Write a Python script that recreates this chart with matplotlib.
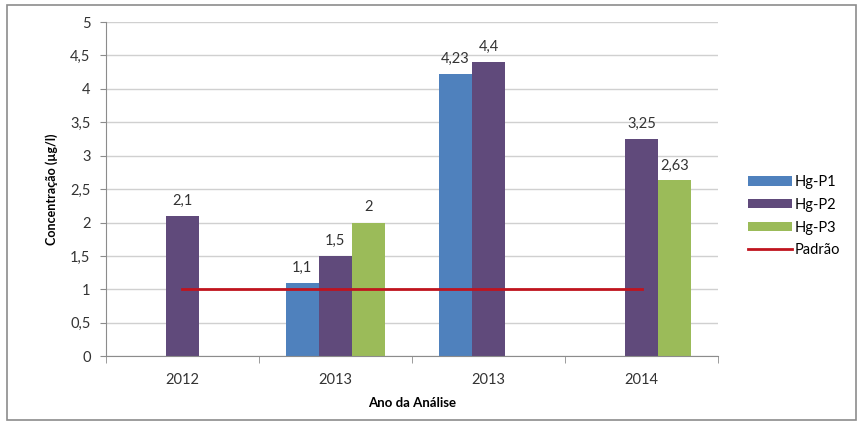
import matplotlib.pyplot as plt
import matplotlib.patches as mpatches
import numpy as np

plt.rcParams['font.family'] = ['Lato', 'DejaVu Sans']

anos = ["2012", "2013", "2013", "2014"]
hg_p1 = [np.nan, 1.1, 4.23, np.nan]
hg_p2 = [2.1, 1.5, 4.4, 3.25]
hg_p3 = [np.nan, 2.0, np.nan, 2.63]
padrao = [1, 1, 1, 1]

series = [("Hg-P1", hg_p1, "#4F81BD"),
          ("Hg-P2", hg_p2, "#604A7B"),
          ("Hg-P3", hg_p3, "#9BBB59")]

fig = plt.figure(figsize=(8.6, 4.24), dpi=100)
fig.patches.append(mpatches.Rectangle((0.008, 0.010), 0.987, 0.978, transform=fig.transFigure,
                                      fill=False, edgecolor="#8c8c8c", linewidth=1.2))
ax = fig.add_axes([0.123, 0.160, 0.712, 0.788])

x = np.arange(len(anos))
w = 0.217
handles = []
for i, (nome, vals, cor) in enumerate(series):
    pos = x + (i - 1) * w
    bars = ax.bar(pos, vals, w, color=cor, label=nome, zorder=2)
    handles.append(bars)
    for p, v in zip(pos, vals):
        if not np.isnan(v):
            txt = ("%g" % v).replace(".", ",")
            ax.text(p, v + 0.12, txt, ha="center", va="bottom", fontsize=10.5, color="#333333")

ln, = ax.plot(x, padrao, color="#C0141E", linewidth=2, label="Padrão", zorder=3)

ax.set_xlim(-0.5, len(anos) - 0.5)
ax.set_ylim(0, 5)
ax.set_yticks(np.arange(0, 5.01, 0.5))
ax.set_yticklabels([("%g" % t).replace(".", ",") for t in np.arange(0, 5.01, 0.5)])
ax.set_xticks(x)
ax.set_xticklabels(anos)
ax.set_xticks(np.arange(-0.5, len(anos), 1), minor=True)
ax.tick_params(axis="x", which="major", length=0, pad=12, labelsize=10.5, labelcolor="#333333")
ax.tick_params(axis="x", which="minor", length=5, color="#8c8c8c")
ax.tick_params(axis="y", length=4, color="#8c8c8c", labelsize=10.5, labelcolor="#333333", pad=7)
ax.grid(axis="y", color="#d0d0d0", linewidth=1, zorder=0)
ax.set_axisbelow(True)
for s in ["top", "right"]:
    ax.spines[s].set_visible(False)
for s in ["left", "bottom"]:
    ax.spines[s].set_color("#8c8c8c")

ax.set_xlabel("Ano da Análise", fontsize=9.5, fontweight="bold", labelpad=7)
ax.set_ylabel("Concentração (µg/l)", fontsize=9, fontweight="bold", labelpad=9)

fig.legend(handles=handles + [ln], labels=["Hg-P1", "Hg-P2", "Hg-P3", "Padrão"],
           loc="center left", bbox_to_anchor=(0.855, 0.49), frameon=False, fontsize=10.5,
           handlelength=3.0, handleheight=0.6, handletextpad=0.2, labelspacing=0.6)

fig.savefig("out.png", dpi=100)
